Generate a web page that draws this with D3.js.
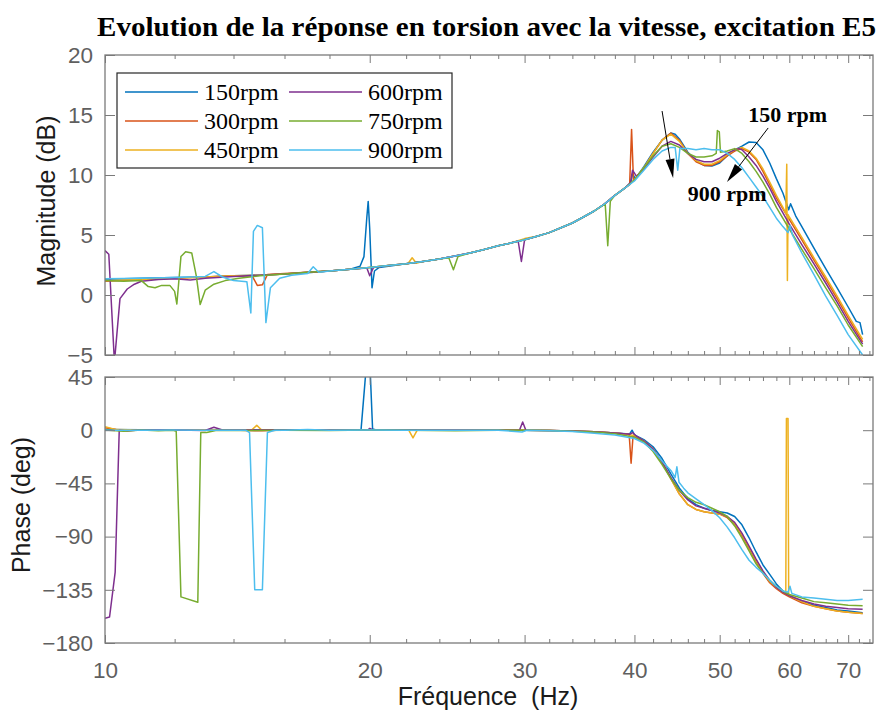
<!DOCTYPE html>
<html><head><meta charset="utf-8">
<script src="https://cdn.jsdelivr.net/npm/d3@7"></script>
<style>body{margin:0;background:#fff}</style>
</head><body><svg id="c" width="878" height="713"></svg>
<script>
const seriesNames = ["150rpm","300rpm","450rpm","600rpm","750rpm","900rpm"];
const colors = ["#0072BD","#D95319","#EDB120","#7E2F8E","#77AC30","#4DBEEE"];
const xMajorTicks = [10,20,30,40,50,60,70];
const xMinorTicks = [12,14,16,18,22,24,26,28,32,34,36,38,42,44,46,48,52,54,56,58,62,64,66,68,72,74];
const magTicks = [-5,0,5,10,15,20];
const phaseTicks = [-180,-135,-90,-45,0,45];
const titleText = "Evolution de la réponse en torsion avec la vitesse, excitation E5";

// Magnitude (dB) : [frequency Hz, value]
const mag150 = [[10,1.3],[10.5,1.35],[11,1.4],[12,1.45],[13,1.5],[14,1.6],[15,1.65],[16,1.75],[17,1.85],[18,2.0],[19,2.15],[19.5,2.4],[19.7,3.2],[19.85,6.5],[19.92,7.8],[20.0,5.5],[20.12,0.6],[20.25,2.0],[20.5,2.3],[21,2.4],[22,2.6],[23,2.8],[24,3.0],[25,3.25],[26,3.5],[27,3.8],[28,4.1],[29,4.35],[30,4.6],[31,4.9],[32,5.2],[33,5.6],[34,6.0],[35,6.5],[36,7.0],[37,7.6],[38,8.3],[39,8.9],[39.6,9.3],[39.8,10.1],[40.1,9.7],[41,10.7],[42,11.9],[43,12.9],[44,13.5],[44.5,13.4],[45,13.0],[46,11.9],[47,11.2],[48,10.8],[49,10.75],[50,11.0],[51,11.6],[52,12.1],[53,12.4],[54,12.75],[55,12.7],[56,12.1],[57,11.0],[58,9.7],[59,8.5],[59.9,7.1],[60.2,7.6],[61,6.6],[62,5.7],[64,3.9],[66,2.2],[68,0.6],[70,-1.0],[71.5,-2.2],[72.2,-2.3],[72.7,-3.3]];
const mag300 = [[10,1.15],[11,1.3],[12,1.4],[13,1.5],[14,1.6],[14.7,1.6],[14.9,0.8],[15.1,0.85],[15.3,1.7],[16,1.8],[17,1.9],[18,2.0],[19,2.15],[20,2.3],[21,2.45],[22,2.6],[23,2.8],[24,3.0],[25,3.25],[26,3.5],[27,3.8],[28,4.1],[29,4.35],[30,4.6],[31,4.9],[32,5.2],[33,5.6],[34,6.0],[35,6.5],[36,7.0],[37,7.6],[38,8.3],[39,8.9],[39.5,9.2],[39.7,13.8],[39.9,9.5],[41,10.6],[42,11.8],[43,12.9],[44,13.5],[45,12.9],[46,11.8],[47,11.1],[48,10.8],[49,10.8],[50,11.1],[51,11.6],[52,12.0],[53,12.2],[54,11.9],[55,11.3],[56,10.3],[57,9.2],[58,8.1],[60,6.3],[62,4.6],[64,2.9],[66,1.3],[68,-0.3],[70,-1.9],[72.7,-3.9]];
const mag450 = [[10,1.2],[11,1.3],[12,1.4],[13,1.5],[14,1.6],[15,1.65],[16,1.75],[17,1.9],[18,2.0],[19,2.15],[20,2.3],[21,2.45],[22.1,2.6],[22.35,3.1],[22.6,2.65],[23,2.8],[24,3.0],[25,3.25],[26,3.5],[27,3.8],[28,4.1],[29,4.35],[30,4.7],[31,4.9],[32,5.2],[33,5.6],[34,6.0],[35,6.5],[36,7.0],[37,7.6],[38,8.3],[39,8.9],[40,9.6],[41,10.6],[42,11.8],[43,12.9],[44,13.4],[45,12.8],[46,11.8],[47,11.2],[48,10.9],[49,10.9],[50,11.2],[51,11.7],[52,12.1],[53,12.3],[54,12.0],[55,11.4],[56,10.5],[57,9.4],[58,8.3],[59,7.3],[59.45,6.8],[59.6,10.9],[59.7,1.2],[59.8,6.7],[60,6.5],[62,4.8],[64,3.1],[66,1.5],[68,-0.1],[70,-1.7],[72.7,-3.7]];
const mag600 = [[10,3.7],[10.1,3.4],[10.25,-5.6],[10.4,-0.3],[10.6,0.5],[10.8,0.9],[11,1.15],[11.5,1.3],[12,1.35],[12.5,1.25],[13,1.4],[14,1.55],[15,1.65],[16,1.75],[17,1.9],[18,2.0],[19,2.15],[19.85,2.25],[20.0,1.6],[20.2,2.3],[21,2.45],[22,2.6],[23,2.8],[24,3.0],[25,3.25],[26,3.5],[27,3.8],[28,4.1],[29,4.35],[29.5,4.5],[29.75,2.8],[30.0,4.6],[31,4.9],[32,5.2],[33,5.6],[34,6.0],[35,6.5],[36,7.0],[37,7.6],[38,8.3],[39,8.9],[39.6,9.4],[39.8,10.4],[40.2,9.9],[41,10.5],[42,11.5],[43,12.4],[44,12.8],[45,12.5],[46,11.8],[47,11.3],[48,11.1],[49,11.1],[50,11.4],[51,11.8],[52,12.1],[52.6,12.2],[53,12.1],[54,11.5],[55,10.8],[56,9.9],[57,8.9],[58,7.8],[60,5.9],[62,4.2],[64,2.6],[66,1.0],[68,-0.6],[70,-2.2],[72.7,-4.1]];
const mag750 = [[10,1.2],[10.5,1.15],[11,1.2],[11.2,0.7],[11.4,0.6],[11.6,0.8],[11.85,0.8],[12.0,0.3],[12.07,-0.75],[12.2,3.2],[12.35,3.6],[12.55,3.5],[12.7,1.6],[12.83,-0.8],[13.0,0.4],[13.3,0.9],[13.7,1.2],[14.2,1.4],[15,1.6],[16,1.75],[17,1.9],[18,2.0],[19,2.15],[20,2.3],[21,2.45],[22,2.6],[23,2.8],[24,3.0],[24.6,3.1],[24.9,2.1],[25.2,3.2],[26,3.5],[27,3.8],[28,4.1],[29,4.35],[30,4.6],[31,4.9],[32,5.2],[33,5.6],[34,6.0],[35,6.5],[36,7.0],[37.05,7.6],[37.3,4.1],[37.55,7.8],[38,8.3],[39,8.9],[40,9.6],[41,10.6],[42,11.6],[43,12.4],[44,12.6],[45,12.3],[46,11.8],[47,11.5],[48,11.5],[49,11.6],[49.55,11.8],[49.7,13.7],[49.95,13.6],[50.1,11.9],[51,12.0],[52,12.2],[53,11.8],[54,11.1],[55,10.3],[56,9.4],[57,8.4],[58,7.3],[60,5.5],[62,3.8],[64,2.2],[66,0.6],[68,-0.9],[70,-2.5],[72.7,-4.3]];
const mag900 = [[10,1.35],[11,1.4],[12,1.45],[12.5,1.5],[13,1.55],[13.3,1.95],[13.6,1.5],[14,1.2],[14.5,1.1],[14.65,-1.5],[14.75,5.3],[14.9,5.8],[15.1,5.6],[15.24,-2.3],[15.42,0.6],[15.8,1.4],[16.3,1.65],[17.0,1.8],[17.25,2.35],[17.5,1.9],[18,2.0],[19,2.15],[20,2.3],[21,2.45],[22,2.6],[23,2.8],[24,3.0],[25,3.25],[26,3.5],[27,3.8],[28,4.1],[29,4.35],[30,4.6],[31,4.9],[32,5.2],[33,5.6],[34,6.0],[35,6.5],[36,7.0],[37,7.6],[38,8.3],[39,8.9],[40,9.5],[41,10.4],[42,11.3],[43,12.0],[44,12.3],[44.5,12.3],[44.8,10.4],[45.05,12.2],[46,12.2],[47,12.1],[48,12.2],[49,12.1],[50,12.1],[51,11.8],[52,11.3],[53,10.6],[54,9.8],[55,9.0],[56,8.2],[57,7.3],[58,6.4],[59,5.7],[59.8,5.2],[60.1,5.8],[60.5,5.0],[62,3.5],[64,1.7],[66,-0.1],[68,-1.7],[70,-3.3],[72.7,-5.0]];

// Phase (deg) : [frequency Hz, value]
const ph150 = [[10,0.5],[11,0.3],[12,0.2],[13,0.3],[14,0.2],[15,0.4],[16,0.2],[17,0.3],[18,0.2],[19,0.2],[19.55,0.3],[19.75,40],[19.85,60],[20.0,60],[20.15,1],[20.35,0.2],[22,0.2],[24,0.1],[26,0.1],[28,0],[30,0],[32,-0.3],[34,-0.7],[36,-1.3],[38,-2.3],[39.5,-3.2],[39.75,0],[40.0,-4],[41,-8],[42,-14],[43,-24],[44,-37],[45,-49],[46,-58],[47,-63],[48,-66],[49,-68],[50,-69],[51,-70],[52,-73],[53,-80],[54,-91],[55,-103],[56,-114],[57,-122],[58,-130],[59,-136],[60,-140],[62,-145],[64,-148],[66,-150],[68,-152],[70,-153],[72.7,-154.5]];
const ph300 = [[10,2],[10.3,0.5],[11,0.2],[12,0.3],[14,0.2],[14.8,-0.5],[15.1,-0.5],[16,0.2],[18,0.2],[20,0.1],[22,0.1],[25,0],[28,0],[30,0],[32,-0.3],[34,-0.7],[36,-1.3],[38,-2.3],[39.45,-3.5],[39.65,-28],[39.85,-5],[41,-9],[42,-16],[43,-27],[44,-41],[45,-54],[46,-63],[47,-67],[48,-69],[49,-70],[50,-71],[51,-74],[52,-80],[53,-89],[54,-100],[55,-111],[56,-121],[57,-129],[58,-134],[59,-138],[60,-141],[62,-146],[64,-149],[66,-151],[68,-153],[70,-154],[72.7,-155]];
const ph450 = [[10,3],[10.3,0.5],[11,0.2],[12,0.2],[14,0.3],[14.7,0.5],[14.88,4.2],[15.05,0.5],[16,0.2],[18,0.2],[20,0.1],[22.15,0],[22.4,-6.5],[22.65,0],[25,0],[28,0],[30,0],[32,-0.3],[34,-0.7],[36,-1.3],[38,-2.3],[40,-4.5],[41,-9],[42,-16],[43,-27],[44,-41],[45,-54],[46,-63],[47,-67],[48,-69],[49,-70],[50,-71],[51,-73],[52,-79],[53,-88],[54,-99],[55,-110],[56,-120],[57,-128],[58,-133],[59,-137],[59.45,-138],[59.55,10],[59.8,10],[59.9,-139],[60,-140],[62,-145],[64,-149],[66,-151],[68,-153],[70,-154],[72.7,-155]];
const ph600 = [[10,-159],[10.12,-158],[10.27,-120],[10.38,0],[10.6,-0.6],[11,0.3],[12,0.2],[13,-0.3],[13.3,2.5],[13.6,0.2],[14,0.2],[16,0.3],[18,0.2],[19.9,0.2],[20.0,1.5],[20.2,0.2],[22,0.1],[25,0],[28,0],[29.6,0],[29.85,7],[30.1,0],[32,-0.3],[34,-0.7],[36,-1.3],[38,-2.3],[39.5,-3.5],[39.8,-2],[40.2,-5],[41,-9],[42,-16],[43,-27],[44,-40],[45,-51],[46,-59],[47,-64],[48,-66],[49,-68],[50,-70],[51,-73],[52,-78],[53,-87],[54,-98],[55,-109],[56,-119],[57,-127],[58,-133],[59,-137],[60,-140],[62,-144],[64,-147],[66,-149],[68,-150],[70,-151],[72.7,-151.5]];
const ph750 = [[10,0.2],[10.5,-0.8],[11,0.2],[11.5,-0.5],[11.95,0],[12.05,-1],[12.2,-141],[12.75,-145.5],[12.85,-2],[13.05,-2],[13.4,0],[14,-0.3],[16,0],[18,-0.3],[20,0.2],[22,0],[25,-0.5],[28,0],[30,0],[32,-0.3],[34,-0.8],[36,-1.6],[38,-3],[40,-6],[41,-10],[42,-18],[43,-29],[44,-41],[45,-51],[46,-57],[47,-61],[48,-63],[49,-66],[50,-69],[51,-73],[52,-81],[53,-91],[54,-102],[55,-113],[56,-121],[57,-127],[58,-132],[59,-136],[60,-139],[62,-142],[64,-145],[66,-146],[68,-147],[70,-148],[72.7,-148.5]];
const ph900 = [[10,0],[11,0],[12,0.2],[13,0],[14,0],[14.45,0],[14.6,-2],[14.8,-135],[15.1,-135],[15.3,-2],[15.6,0],[16,0],[17,0.5],[18,0],[20,0.2],[22,0],[25,0],[28,0],[29.8,-1.5],[30.2,0],[32,-0.5],[34,-1.2],[36,-2.5],[38,-4],[40,-7],[41,-11],[42,-17],[43,-26],[44,-34],[44.5,-40],[44.7,-31],[44.95,-44],[45.5,-49],[46,-53],[47,-58],[48,-63],[49,-68],[50,-74],[51,-82],[52,-91],[53,-101],[54,-110],[55,-116],[56,-121],[57,-127],[58,-132],[59,-136],[59.8,-137],[60.1,-132],[60.4,-138],[62,-141],[64,-142],[66,-143],[68,-144],[70,-144],[72.7,-143]];

const magSeries = [mag150, mag300, mag450, mag600, mag750, mag900];
const phaseSeries = [ph150, ph300, ph450, ph600, ph750, ph900];

// annotations in data space (Hz, dB)
const arrows = [ {from:[43.0,15.33], to:[44.26,9.75]}, {from:[56.77,13.92], to:[50.97,9.42]} ];
const labels = [ {text:"150 rpm", at:[53.9,14.42]}, {text:"900 rpm", at:[46.0,7.83]} ];

const svg = d3.select("#c");
const L = 105, R = 873;
const x = d3.scaleLog().domain([10, 74.7]).range([L, R]);
const yMag = d3.scaleLinear().domain([-5, 20]).range([355, 55]);
const yPh = d3.scaleLinear().domain([-180, 45]).range([643, 377]);

const axisColor = "#7a7a7a", tickTextColor = "#5f5f5f";
const sans = "'Liberation Sans', Arial, Helvetica, sans-serif";
const serif = "'Liberation Serif', 'Times New Roman', Times, serif";

function panel(id, y, ticks, series, showX) {
  const [yb, yt] = y.range();
  svg.append("clipPath").attr("id", id).append("rect")
    .attr("x", L).attr("y", yt).attr("width", R - L).attr("height", yb - yt);
  const g = svg.append("g");
  const line = d3.line().x(d => x(d[0])).y(d => y(d[1]));
  const lg = g.append("g").attr("clip-path", `url(#${id})`);
  series.forEach((s, i) => {
    lg.append("path").datum(s).attr("d", line).attr("fill", "none")
      .attr("stroke", colors[i]).attr("stroke-width", 1.5).attr("stroke-linejoin", "round");
  });
  const style = sel => {
    sel.select(".domain").remove();
    sel.selectAll(".tick line").attr("stroke", axisColor);
    sel.selectAll(".tick text").attr("fill", tickTextColor).style("font-family", sans).style("font-size", "22.5px");
  };
  g.append("g").attr("transform", `translate(0,${yb})`)
    .call(d3.axisBottom(x).tickValues(xMajorTicks).tickSize(-8).tickPadding(19)
      .tickFormat(showX ? d3.format("d") : () => "")).call(style);
  g.append("g").attr("transform", `translate(0,${yb})`)
    .call(d3.axisBottom(x).tickValues(xMinorTicks).tickSize(-4).tickFormat(() => "")).call(style);
  g.append("g").attr("transform", `translate(0,${yt})`)
    .call(d3.axisTop(x).tickValues(xMajorTicks).tickSize(-8).tickFormat(() => "")).call(style);
  g.append("g").attr("transform", `translate(0,${yt})`)
    .call(d3.axisTop(x).tickValues(xMinorTicks).tickSize(-4).tickFormat(() => "")).call(style);
  g.append("g").attr("transform", `translate(${L},0)`)
    .call(d3.axisLeft(y).tickValues(ticks).tickSize(-10).tickPadding(12).tickFormat(d3.format("d"))).call(style);
  g.append("g").attr("transform", `translate(${R},0)`)
    .call(d3.axisRight(y).tickValues(ticks).tickSize(-10).tickFormat(() => "")).call(style);
  g.append("rect").attr("x", L).attr("y", yt).attr("width", R - L).attr("height", yb - yt)
    .attr("fill", "none").attr("stroke", axisColor).attr("stroke-width", 1.3);
  return g;
}

panel("clipMag", yMag, magTicks, magSeries, false);
panel("clipPh", yPh, phaseTicks, phaseSeries, true);

// axis labels
svg.append("text").attr("transform", "translate(55,201) rotate(-90)").attr("text-anchor", "middle")
  .style("font-family", sans).style("font-size", "25px").attr("fill", "#1a1a1a").text("Magnitude (dB)");
svg.append("text").attr("transform", "translate(30,505) rotate(-90)").attr("text-anchor", "middle")
  .style("font-family", sans).style("font-size", "25px").attr("fill", "#1a1a1a").text("Phase (deg)");
svg.append("text").attr("x", 488).attr("y", 705).attr("text-anchor", "middle").style("white-space", "pre")
  .style("font-family", sans).style("font-size", "25px").attr("fill", "#1a1a1a").text("Fréquence  (Hz)");

// title
svg.append("text").attr("x", 97).attr("y", 36).attr("textLength", 779).attr("lengthAdjust", "spacingAndGlyphs")
  .style("font-family", serif).style("font-weight", "bold").style("font-size", "27px").attr("fill", "#000").text(titleText);

// legend
const leg = svg.append("g");
leg.append("rect").attr("x", 117).attr("y", 73).attr("width", 335).attr("height", 95)
  .attr("fill", "#fff").attr("stroke", "#262626").attr("stroke-width", 1.2);
seriesNames.forEach((n, i) => {
  const col = Math.floor(i / 3), row = i % 3;
  const lx = col === 0 ? 125 : 289, ly = 92 + row * 29;
  leg.append("line").attr("x1", lx).attr("x2", lx + 73).attr("y1", ly).attr("y2", ly)
    .attr("stroke", colors[i]).attr("stroke-width", 1.5);
  leg.append("text").attr("x", lx + 79).attr("y", ly + 8).style("font-family", serif)
    .style("font-size", "24px").attr("fill", "#000").text(n);
});

// annotations
const ann = svg.append("g");
arrows.forEach(a => {
  const x1 = x(a.from[0]), y1 = yMag(a.from[1]), x2 = x(a.to[0]), y2 = yMag(a.to[1]);
  const ang = Math.atan2(y2 - y1, x2 - x1), len = 19, hw = 4.5;
  const bx = x2 - len * Math.cos(ang), by = y2 - len * Math.sin(ang);
  ann.append("line").attr("x1", x1).attr("y1", y1).attr("x2", bx).attr("y2", by)
    .attr("stroke", "#000").attr("stroke-width", 1);
  const px = -Math.sin(ang) * hw, py = Math.cos(ang) * hw;
  ann.append("path").attr("d", `M${x2},${y2}L${bx + px},${by + py}L${bx - px},${by - py}Z`).attr("fill", "#000");
});
labels.forEach(l => {
  ann.append("text").attr("x", x(l.at[0])).attr("y", yMag(l.at[1])).style("font-family", serif)
    .style("font-weight", "bold").style("font-size", "22px").attr("fill", "#000").text(l.text);
});
</script>
</body></html>
